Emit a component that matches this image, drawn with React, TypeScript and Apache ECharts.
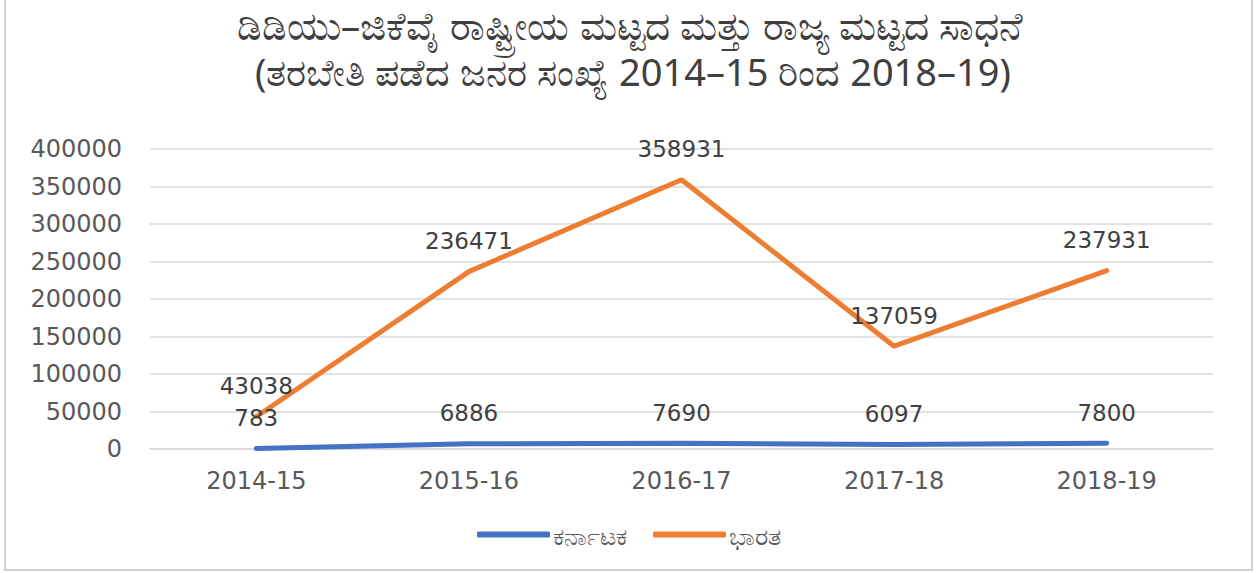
import React, { useEffect, useRef } from "react";
import * as echarts from "echarts";

const titleLine1 = "ಡಿಡಿಯು–ಜಿಕೆವೈ ರಾಷ್ಟ್ರೀಯ ಮಟ್ಟದ ಮತ್ತು ರಾಜ್ಯ ಮಟ್ಟದ ಸಾಧನೆ";
const titleLine2 = "(ತರಬೇತಿ ಪಡೆದ ಜನರ ಸಂಖ್ಯೆ 2014–15 ರಿಂದ 2018–19)";
const categories = ["2014-15", "2015-16", "2016-17", "2017-18", "2018-19"];
const karnataka = [783, 6886, 7690, 6097, 7800];
const bharata = [43038, 236471, 358931, 137059, 237931];
const seriesNames = ["ಕರ್ನಾಟಕ", "ಭಾರತ"];

export default function App() {
  const ref = useRef<HTMLDivElement>(null);
  useEffect(() => {
    if (!ref.current) return;
    const chart = echarts.init(ref.current, null, { renderer: "svg" });
    const labelStyle = {
      show: true,
      position: "top",
      distance: 19,
      fontSize: 23,
      color: "#404040",
      fontFamily: "DejaVu Sans",
    };
    chart.setOption({
      animation: false,
      backgroundColor: "#fff",
      textStyle: { fontFamily: "DejaVu Sans" },
      title: [
        {
          text: titleLine1,
          left: 630,
          textAlign: "center",
          top: 4,
          padding: 0,
          textStyle: {
            fontSize: 39,
            lineHeight: 40,
            fontWeight: "normal",
            color: "#404040",
            fontFamily: "Noto Sans",
          },
        },
        {
          text: titleLine2,
          left: 633,
          textAlign: "center",
          top: 51,
          padding: 0,
          textStyle: {
            fontSize: 38,
            lineHeight: 40,
            fontWeight: "normal",
            color: "#404040",
            fontFamily: "Noto Sans",
          },
        },
      ],
      graphic: [
        {
          type: "rect",
          shape: { x: 5, y: -5, width: 1247, height: 575 },
          style: { fill: "none", stroke: "#d0d0d0", lineWidth: 2 },
          silent: true,
        },
      ],
      grid: { left: 150, right: 45, top: 149, bottom: 124 },
      legend: {
        data: seriesNames,
        top: 517,
        left: "center",
        itemWidth: 73,
        itemHeight: 6,
        itemGap: 26,
        icon: "roundRect",
        textStyle: { fontSize: 25, color: "#595959", fontFamily: "Noto Sans", padding: [0, 0, 0, -2] },
      },
      xAxis: {
        type: "category",
        data: categories,
        boundaryGap: true,
        axisLine: { lineStyle: { color: "#d9d9d9", width: 1.5 } },
        axisTick: { show: false },
        axisLabel: { fontSize: 24, color: "#595959", margin: 20 },
      },
      yAxis: {
        type: "value",
        min: 0,
        max: 400000,
        interval: 50000,
        axisLine: { show: false },
        axisTick: { show: false },
        axisLabel: {
          fontSize: 24,
          color: "#595959",
          margin: 28,
          formatter: (v: number) => String(v),
        },
        splitLine: { lineStyle: { color: "#d9d9d9", width: 1.5 } },
      },
      series: [
        {
          name: seriesNames[0],
          type: "line",
          data: karnataka,
          symbol: "circle",
          symbolSize: 0.1,
          showSymbol: true,
          lineStyle: { color: "#4472C4", width: 5, cap: "round" },
          itemStyle: { color: "#4472C4" },
          label: labelStyle,
        },
        {
          name: seriesNames[1],
          type: "line",
          data: bharata,
          symbol: "circle",
          symbolSize: 0.1,
          showSymbol: true,
          lineStyle: { color: "#ED7D31", width: 5, cap: "round" },
          itemStyle: { color: "#ED7D31" },
          label: labelStyle,
        },
      ],
    });
    return () => chart.dispose();
  }, []);
  return (
    <div
      ref={ref}
      style={{ position: "fixed", left: 0, top: 0, width: 1258, height: 573 }}
    />
  );
}
